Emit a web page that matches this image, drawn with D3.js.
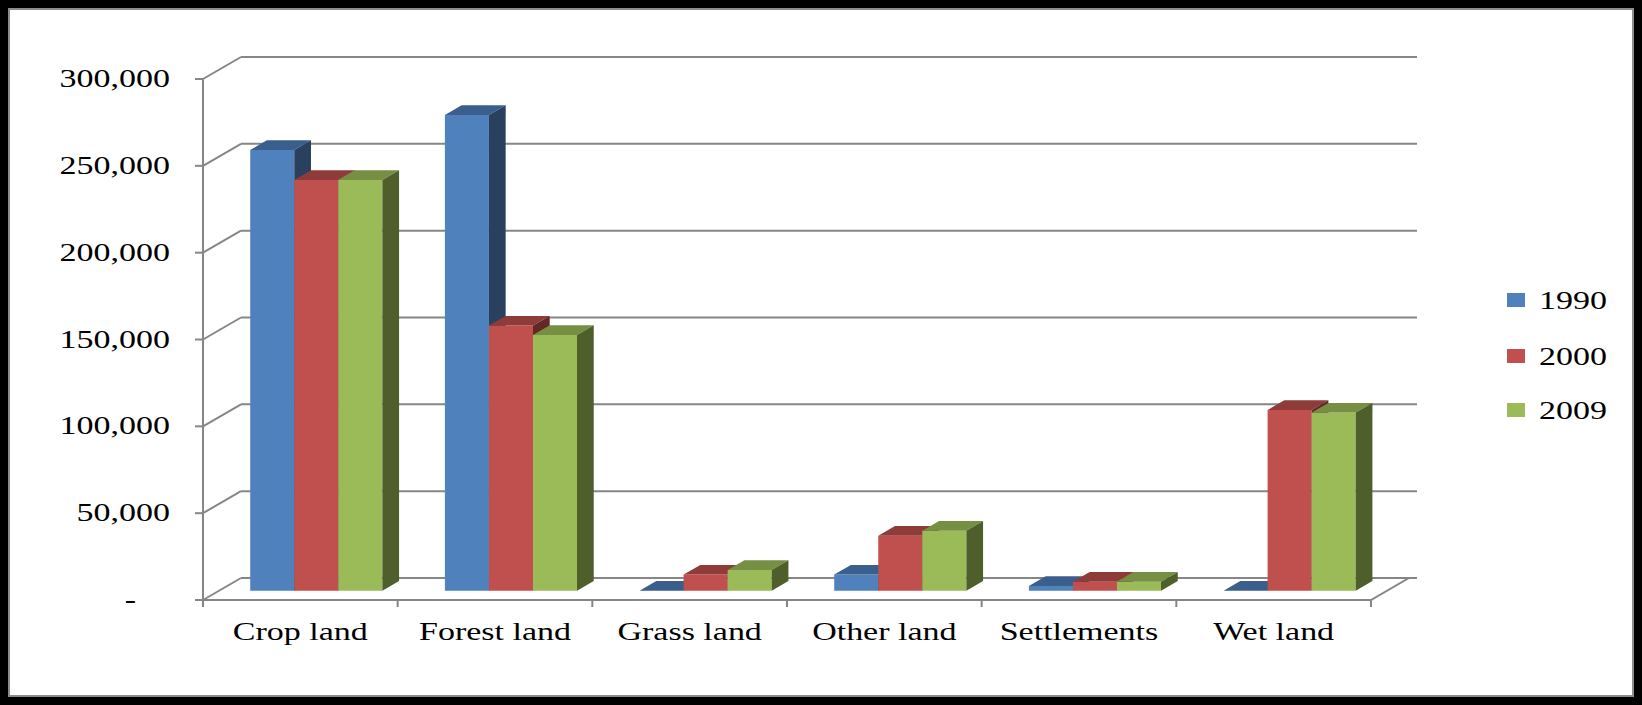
<!DOCTYPE html>
<html>
<head>
<meta charset="utf-8">
<script src="https://cdn.jsdelivr.net/npm/d3@7"></script>
<style>
  html, body { margin: 0; padding: 0; background: #000; }
  svg { display: block; }
</style>
</head>
<body>
<svg id="chart" width="1642" height="705"></svg>
<script>
// Land-use areas by category and year
const categories = ["Crop land", "Forest land", "Grass land", "Other land", "Settlements", "Wet land"];
const seriesNames = ["1990", "2000", "2009"];
const values1990 = [253800, 274000, 0, 9300, 2800, 0];
const values2000 = [236500, 152700, 9300, 31700, 5200, 104100];
const values2009 = [236500, 147300, 12000, 34600, 5200, 102600];
const yTicks = [0, 50000, 100000, 150000, 200000, 250000, 300000];

const seriesValues = [values1990, values2000, values2009];
const frontColor = ["#4F81BD", "#C0504D", "#9BBB59"];
const topColor   = ["#3B5F8C", "#8F3B39", "#768F43"];
const sideColor  = ["#29415F", "#632725", "#4E5F2B"];

const W = 1642, H = 705;
const svg = d3.select("#chart");

// frame
svg.append("rect").attr("x", 0).attr("y", 0).attr("width", W).attr("height", H).attr("fill", "#000");
svg.append("rect").attr("x", 9).attr("y", 9).attr("width", W - 18).attr("height", H - 18)
  .attr("fill", "#fff").attr("stroke", "#8c8c8c").attr("stroke-width", 2);

// oblique 3D projection: depth z in [0,1] shifts right and up
const DX = 38, DY = 22;
const axisLeft = 203, axisRight = 1371;
const y = d3.scaleLinear().domain([0, 300000]).range([600, 79]);
const x0 = d3.scaleBand().domain(categories).range([axisLeft, axisRight]).paddingInner(0).paddingOuter(0);
const x1 = d3.scaleBand().domain(seriesNames).range([0, x0.bandwidth()]).paddingInner(0).paddingOuter(0.71);
const px = (x, z) => x + z * DX;
const py = (v, z) => y(v) - z * DY;
const line = d3.line();

const grid = svg.append("g").attr("stroke", "#868686").attr("stroke-width", 2).attr("fill", "none");

// back-wall gridlines and side-wall lines
yTicks.forEach(v => {
  grid.append("path").attr("d", line([[px(axisLeft, 1), py(v, 1)], [px(axisRight, 1) + 8, py(v, 1)]]));
  grid.append("path").attr("d", line([[px(axisLeft, 0), py(v, 0)], [px(axisLeft, 1), py(v, 1)]]));
  grid.append("path").attr("d", line([[axisLeft - 8, y(v)], [axisLeft, y(v)]]));
});
// floor edges
grid.append("path").attr("d", line([[axisLeft, y(0)], [axisRight, y(0)], [px(axisRight, 1), py(0, 1)], [px(axisRight, 1) + 8, py(0, 1)]]));
// vertical value axis
grid.append("path").attr("d", line([[axisLeft, y(300000)], [axisLeft, y(0) + 7]]));
// category ticks
categories.forEach((c, i) => {
  const xr = x0(c) + x0.bandwidth();
  grid.append("path").attr("d", line([[xr, y(0)], [xr, y(0) + 7]]));
});

// bars
const z0 = 0.42, z1 = 0.86;
const bars = svg.append("g");
categories.forEach((c, ci) => {
  seriesNames.forEach((s, si) => {
    const v = seriesValues[si][ci];
    const xl = x0(c) + x1(s), xr = xl + x1.bandwidth();
    const front = [[px(xl, z0), py(0, z0)], [px(xr, z0), py(0, z0)], [px(xr, z0), py(v, z0)], [px(xl, z0), py(v, z0)]];
    const top = [[px(xl, z0), py(v, z0)], [px(xr, z0), py(v, z0)], [px(xr, z1), py(v, z1)], [px(xl, z1), py(v, z1)]];
    const side = [[px(xr, z0), py(0, z0)], [px(xr, z1), py(0, z1)], [px(xr, z1), py(v, z1)], [px(xr, z0), py(v, z0)]];
    if (v > 0) bars.append("path").attr("d", line(front) + "Z").attr("fill", frontColor[si]);
    bars.append("path").attr("d", line(top) + "Z").attr("fill", topColor[si]);
    if (v > 0) bars.append("path").attr("d", line(side) + "Z").attr("fill", sideColor[si]);
  });
});

// text helper: Times-style face, stretched horizontally
const SX = 1.36;
function label(x, yy, txt, anchor) {
  return svg.append("text")
    .attr("transform", `translate(${x},${yy}) scale(${SX},1)`)
    .attr("font-family", "'Liberation Serif', 'Times New Roman', serif")
    .attr("font-size", 25)
    .attr("fill", "#000")
    .attr("text-anchor", anchor)
    .text(txt);
}

const fmt = d3.format(",");
yTicks.forEach(v => {
  if (v === 0) label(170 - 34, y(v) + 8, "-", "end");
  else label(170, y(v) + 8, fmt(v), "end");
});
categories.forEach(c => label(x0(c) + x0.bandwidth() / 2, 640, c, "middle"));

// legend
const legendY = [300, 356, 410];
seriesNames.forEach((s, i) => {
  svg.append("rect").attr("x", 1507).attr("y", legendY[i] - 7).attr("width", 18).attr("height", 14).attr("fill", frontColor[i]);
  label(1539, legendY[i] + 9, s, "start");
});
</script>
</body>
</html>
